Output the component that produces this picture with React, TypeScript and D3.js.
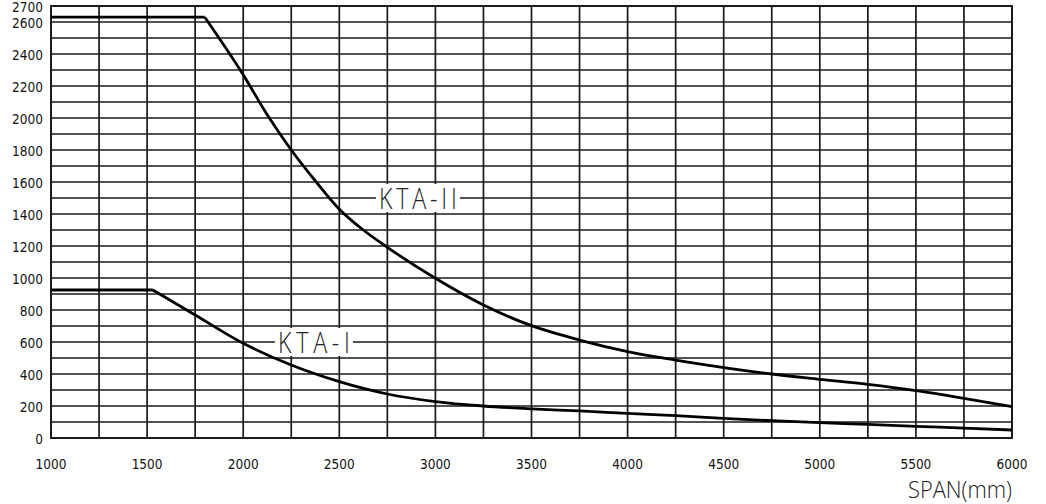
import React from "react";
import * as d3 from "d3";

const xLabelTicks = [1000, 1500, 2000, 2500, 3000, 3500, 4000, 4500, 5000, 5500, 6000];
const yLabelTicks = [0, 200, 400, 600, 800, 1000, 1200, 1400, 1600, 1800, 2000, 2200, 2400, 2600, 2700];
const xGridStep = 250;
const yGridStep = 100;

const ktaIIFlat = [
  { span: 1000, load: 2630 },
  { span: 1800, load: 2630 },
];
const ktaIICurve = [
  { span: 1800, load: 2630 },
  { span: 2000, load: 2270 },
  { span: 2125, load: 2020 },
  { span: 2250, load: 1800 },
  { span: 2380, load: 1600 },
  { span: 2500, load: 1430 },
  { span: 2625, load: 1300 },
  { span: 2750, load: 1192 },
  { span: 3000, load: 998 },
  { span: 3250, load: 831 },
  { span: 3500, load: 702 },
  { span: 3750, load: 612 },
  { span: 4000, load: 540 },
  { span: 4250, load: 487 },
  { span: 4500, load: 440 },
  { span: 4750, load: 400 },
  { span: 5000, load: 367 },
  { span: 5250, load: 335 },
  { span: 5500, load: 296 },
  { span: 5750, load: 248 },
  { span: 6000, load: 196 },
];
const ktaIFlat = [
  { span: 1000, load: 925 },
  { span: 1530, load: 925 },
];
const ktaICurve = [
  { span: 1530, load: 925 },
  { span: 1750, load: 769 },
  { span: 2000, load: 592 },
  { span: 2250, load: 456 },
  { span: 2500, load: 352 },
  { span: 2750, load: 275 },
  { span: 3000, load: 228 },
  { span: 3250, load: 200 },
  { span: 3500, load: 182 },
  { span: 3750, load: 169 },
  { span: 4000, load: 154 },
  { span: 4250, load: 140 },
  { span: 4500, load: 123 },
  { span: 4750, load: 108 },
  { span: 5000, load: 96 },
  { span: 5250, load: 85 },
  { span: 5500, load: 73 },
  { span: 5750, load: 62 },
  { span: 6000, load: 50 },
];
const seriesLabels = [
  { text: "KTA-II", span: 2909, load: 1500, width: 78 },
  { text: "KTA-I", span: 2368, load: 600, width: 72 },
];
const axisTitle = "SPAN(mm)";

const W = 1046;
const H = 504;
const left = 51;
const right = 1012;
const top = 6;
const bottom = 438;
const ink = "#1a1a1a";
const tickFont = "'DejaVu Sans Condensed', 'DejaVu Sans', sans-serif";
const labelFont = "'Open Sans', 'DejaVu Sans', sans-serif";
const squeeze = 0.8;

export default function App() {
  const x = d3.scaleLinear().domain([1000, 6000]).range([left, right]);
  const y = d3.scaleLinear().domain([0, 2700]).range([bottom, top]);
  const xGrid = d3.range(1000, 6000 + 1, xGridStep);
  const yGrid = d3.range(0, 2700 + 1, yGridStep);

  const straight = d3
    .line<{ span: number; load: number }>()
    .x((d) => x(d.span))
    .y((d) => y(d.load));
  const smooth = d3
    .line<{ span: number; load: number }>()
    .x((d) => x(d.span))
    .y((d) => y(d.load))
    .curve(d3.curveMonotoneX);

  return (
    <svg
      width={W}
      height={H}
      style={{ position: "absolute", left: 0, top: 0, background: "#fff" }}
    >
      <rect x={0} y={0} width={W} height={H} fill="#fff" />
      {yGrid.map((v) => (
        <line key={"h" + v} x1={left} x2={right} y1={y(v)} y2={y(v)} stroke={ink} strokeWidth={1.7} />
      ))}
      {xGrid.map((v) => (
        <line key={"v" + v} x1={x(v)} x2={x(v)} y1={top} y2={bottom} stroke={ink} strokeWidth={1.7} />
      ))}
      <rect x={left} y={top} width={right - left} height={bottom - top} fill="none" stroke={ink} strokeWidth={1.9} />

      {[ktaIIFlat, ktaIFlat].map((d, i) => (
        <path key={"f" + i} d={straight(d) || ""} fill="none" stroke="#000" strokeWidth={2.8} />
      ))}
      {[ktaIICurve, ktaICurve].map((d, i) => (
        <path key={"c" + i} d={smooth(d) || ""} fill="none" stroke="#000" strokeWidth={2.8} strokeLinejoin="round" />
      ))}

      {seriesLabels.map((l) => {
        const cx = x(l.span);
        const cy = y(l.load);
        const w = l.width;
        return (
          <g key={l.text}>
            <rect x={cx - w / 2 - 3} y={cy - 14} width={w + 6} height={28} fill="#fff" />
            <g transform={`translate(${cx - w / 2},${cy}) scale(${squeeze},1)`}>
              <text
                x={0}
                y={10.5}
                fontFamily={labelFont}
                fontWeight={300}
                fontSize={29}
                textLength={w / squeeze}
                lengthAdjust="spacing"
                fill="#222"
              >
                {l.text}
              </text>
            </g>
          </g>
        );
      })}

      {yLabelTicks.map((v) => (
        <text
          key={"yl" + v}
          x={43}
          y={y(v) + 6}
          textAnchor="end"
          fontFamily={tickFont}
          fontSize={13.5}
          fill="#111"
        >
          {v}
        </text>
      ))}
      {xLabelTicks.map((v) => (
        <text
          key={"xl" + v}
          x={x(v)}
          y={469}
          textAnchor="middle"
          fontFamily={tickFont}
          fontSize={13.5}
          fill="#111"
        >
          {v}
        </text>
      ))}
      <text
        x={908}
        y={498}
        fontFamily={labelFont}
        fontWeight={300}
        fontSize={24}
        textLength={104}
        lengthAdjust="spacingAndGlyphs"
        fill="#222"
      >
        {axisTitle}
      </text>
    </svg>
  );
}
